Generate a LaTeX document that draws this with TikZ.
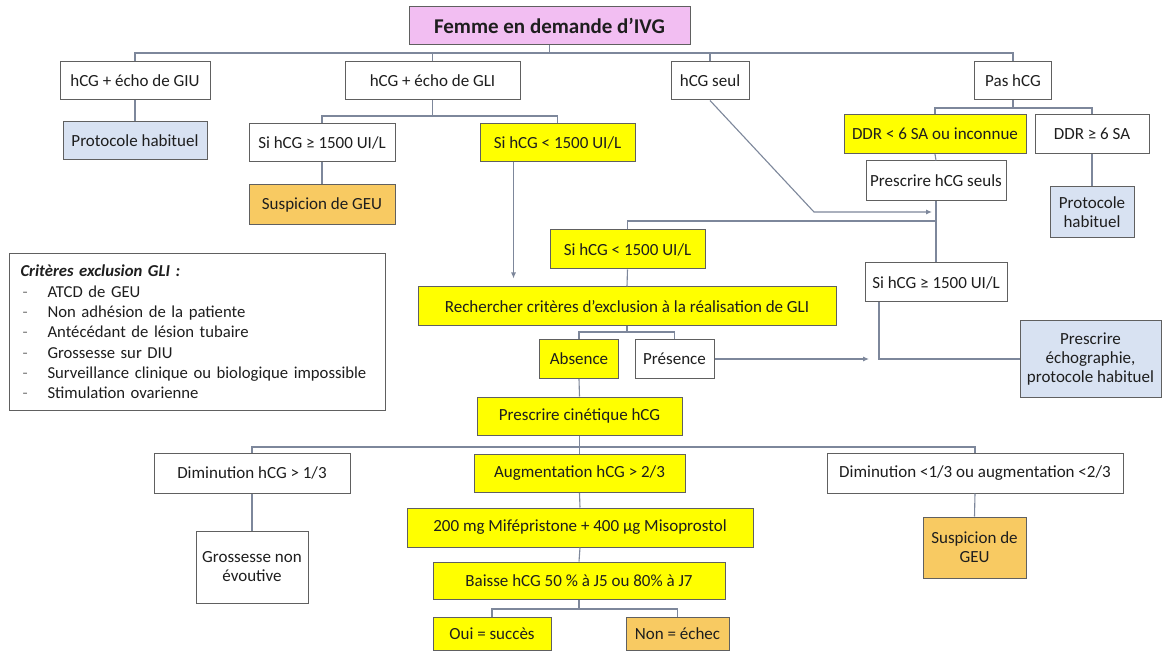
\documentclass[tikz,border=0pt]{standalone}
\usepackage{fontspec}
\setmainfont{Carlito}
\usepackage{xcolor}
\usetikzlibrary{arrows, arrows.meta}
\usetikzlibrary{calc}
\definecolor{cadre}{RGB}{96,96,96}
\definecolor{trait}{RGB}{125,135,155}
\definecolor{jauneIVG}{RGB}{255,255,0}
\definecolor{orangeIVG}{RGB}{248,202,98}
\definecolor{bleuIVG}{RGB}{216,226,242}
\definecolor{roseIVG}{RGB}{242,190,242}
\definecolor{texte}{RGB}{30,30,30}
\tikzset{boite/.style={draw=cadre, line width=1pt, fill=white, text=texte, inner sep=1pt, align=center, font=\fontsize{17}{19}\selectfont}}
\tikzset{taille/.style 2 args={minimum width=#1pt, minimum height=#2pt}}
\tikzset{bjaune/.style={boite, fill=jauneIVG}}
\tikzset{borange/.style={boite, fill=orangeIVG}}
\tikzset{bbleu/.style={boite, fill=bleuIVG}}
\tikzset{lien/.style={draw=trait, line width=1.1pt}}
\tikzset{fleche/.style={lien, -{Latex[length=6pt, width=5pt]}}}
\newcommand{\puce}{\makebox[27pt][l]{\hspace{2pt}\textcolor{gray}{-}}}

\begin{document}
\begin{tikzpicture}[x=1pt, y=-1pt]
  \useasboundingbox[fill=white] (0,0) rectangle (1163,655);
  %Niveaux
  \coordinate (n1) at (0,53);
  \coordinate (n2) at (0,116);
  \coordinate (n3) at (0,108);
  \coordinate (n4) at (0,221);
  \coordinate (n5) at (0,332);
  \coordinate (n6) at (0,447);
  \coordinate (n7) at (0,609);
  \coordinate (coude) at (814,212);
  \coordinate (coin) at (879,359);

  %Boites
  \node[boite, fill=roseIVG, taille={281}{38}, font=\fontsize{21}{24}\selectfont\bfseries] (femme) at (549.5,26) {Femme en demande d’IVG};
  \node[boite, taille={150}{38}] (giu) at (135,81) {hCG + écho de GIU};
  \node[boite, taille={175}{38}] (gli) at (432.5,81) {hCG + écho de GLI};
  \node[boite, taille={78}{38}] (seul) at (710,81) {hCG seul};
  \node[boite, taille={77}{38}] (pas) at (1013,81) {Pas hCG};
  \node[bbleu, taille={144}{38}] (proto1) at (135,141) {Protocole habituel};
  \node[boite, taille={146}{38}] (sige1) at (322,143) {Si hCG ≥ 1500 UI/L};
  \node[bjaune, taille={155}{38}] (silt1) at (557.5,143) {Si hCG < 1500 UI/L};
  \node[borange, taille={146}{40}] (susp1) at (322,205) {Suspicion de GEU};
  \node[bjaune, taille={182}{39}] (ddr1) at (935,134) {DDR < 6 SA ou inconnue};
  \node[boite, taille={114}{39}] (ddr2) at (1092,134) {DDR ≥ 6 SA};
  \node[boite, taille={140}{40}] (presc) at (936,181) {Prescrire hCG seuls};
  \node[bbleu, taille={84}{51}] (proto2) at (1092,212.5) {Protocole\\habituel};
  \node[bjaune, taille={155}{39}] (silt2) at (627.5,249.5) {Si hCG < 1500 UI/L};
  \node[bjaune, taille={418}{39}] (rech) at (627,306.5) {Rechercher critères d’exclusion à la réalisation de GLI};
  \node[boite, taille={142}{39}] (sige2) at (936,282.5) {Si hCG ≥ 1500 UI/L};
  \node[bbleu, taille={141}{76}] (proto3) at (1090.5,359) {Prescrire\\échographie,\\protocole habituel};
  \node[bjaune, taille={79}{39}] (abs) at (579,359) {Absence};
  \node[boite, taille={79}{39}] (pres) at (674.5,359) {Présence};
  \node[bjaune, taille={205}{38}] (cin) at (579.5,416) {Prescrire cinétique hCG};
  \node[boite, taille={196}{40}] (dim1) at (252,473) {Diminution hCG > 1/3};
  \node[bjaune, taille={211}{38}] (aug) at (579.5,473.5) {Augmentation hCG > 2/3};
  \node[boite, taille={296}{40}] (dim2) at (975,473) {Diminution <1/3 ou augmentation <2/3};
  \node[boite, taille={112}{72}] (gross) at (252,567) {Grossesse non\\évoutive};
  \node[bjaune, taille={346}{39}] (mife) at (580,527.5) {200 mg Mifépristone + 400 µg Misoprostol};
  \node[borange, taille={103}{61}] (susp2) at (974.5,547.5) {Suspicion de\\GEU};
  \node[bjaune, taille={292}{37}] (baisse) at (579,580.5) {Baisse hCG 50 \% à J5 ou 80\% à J7};
  \node[bjaune, taille={118}{33}] (oui) at (492,633.5) {Oui = succès};
  \node[borange, taille={103}{33}] (non) at (677.5,633.5) {Non = échec};
  \node[draw=cadre, line width=1pt, fill=white, text=texte, anchor=north west, align=left, text width=354pt, inner xsep=11pt, inner ysep=7pt, minimum width=376pt, minimum height=157pt, font=\fontsize{16.7}{20.3}\selectfont] (crit) at (9,253)
    {\textbf{\textit{Critères exclusion GLI :}}\\
     \puce ATCD de GEU\\
     \puce Non adhésion de la patiente\\
     \puce Antécédant de lésion tubaire\\
     \puce Grossesse sur DIU\\
     \puce Surveillance clinique ou biologique impossible\\
     \puce Stimulation ovarienne};

  %Traits
  \draw[lien] (femme.south) -- (femme.south |- n1);
  \draw[lien] (giu.north) |- (pas.north |- n1) -- (pas.north);
  \draw[lien] (gli.north) -- (gli.north |- n1);
  \draw[lien] (seul.north) -- (seul.north |- n1);
  \draw[lien] (giu.south) -- (proto1.north);
  \draw[lien] (gli.south) -- (gli.south |- n2);
  \draw[lien] (sige1.north) |- (silt1.north |- n2) -- (silt1.north);
  \draw[lien] (sige1.south) -- (susp1.north);
  \draw[lien] (pas.south) -- (pas.south |- n3);
  \draw[lien] (ddr1.north) |- (ddr2.north |- n3) -- (ddr2.north);
  \draw[lien] (ddr1.south) -- (presc.north);
  \draw[lien] (ddr2.south) -- (proto2.north);
  \draw[fleche, shorten >=4pt] (seul.south) -- (coude) -- (coude -| presc.south);
  \draw[lien] (presc.south) -- (sige2.north);
  \draw[lien] (silt2.north) |- (presc.south |- n4);
  \draw[fleche, shorten >=8pt] ([xshift=-44pt]silt1.south) -- ([xshift=-44pt]silt1.south |- rech.north);
  \draw[lien] (silt2.south) -- (rech.north);
  \draw[lien] (rech.south) -- (rech.south |- n5);
  \draw[lien] (abs.north) |- (pres.north |- n5) -- (pres.north);
  \draw[fleche, shorten >=10pt] (pres.east) -- (coin);
  \draw[lien] (sige2.south -| coin) -- (coin) -- (proto3.west);
  \draw[lien] (abs.south) -- (cin.north);
  \draw[lien] (cin.south) -- (aug.north);
  \draw[lien] (dim1.north) |- (dim2.north |- n6) -- (dim2.north);
  \draw[lien] (dim1.south) -- (gross.north);
  \draw[lien] (aug.south) -- (mife.north);
  \draw[lien] (mife.south) -- (baisse.north);
  \draw[lien] (dim2.south) -- (susp2.north);
  \draw[lien] (baisse.south) -- (baisse.south |- n7);
  \draw[lien] (oui.north) |- (non.north |- n7) -- (non.north);
\end{tikzpicture}
\end{document}
